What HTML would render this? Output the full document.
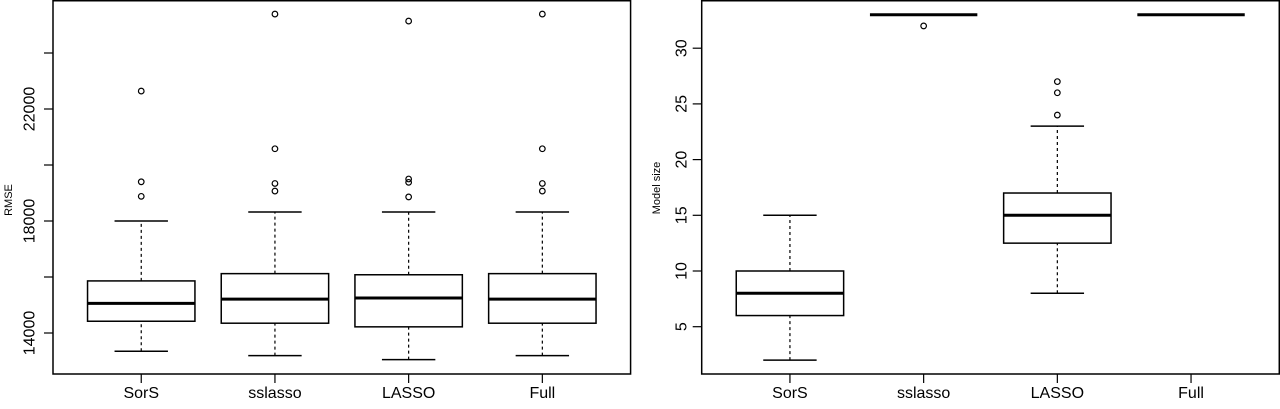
<!DOCTYPE html>
<html><head><meta charset="utf-8"><style>
html,body{margin:0;padding:0;background:#fff;}
svg text{font-family:"Liberation Sans",Arial,sans-serif;fill:#000;}
</style></head><body>
<svg id="chart" width="1280" height="404" xmlns="http://www.w3.org/2000/svg"></svg>
<script>
const categories = ["SorS","sslasso","LASSO","Full"];
// RMSE stats: [lowerWhisker, q1, median, q3, upperWhisker]
const rmseStats = [
  [13350,14420,15060,15860,18000],
  [13190,14350,15210,16120,18320],
  [13050,14220,15250,16080,18320],
  [13190,14350,15210,16120,18320]
];
const rmseOutliers = [
  [22640,19400,18880],
  [25390,20580,19340,19070],
  [25140,19500,19380,18860],
  [25390,20580,19340,19070]
];
const rmseTicks = [14000,16000,18000,20000,22000,24000];
const rmseTickLabels = ["14000","","18000","","22000",""];
const sizeStats = [
  [2,6,8,10,15],
  [33,33,33,33,33],
  [8,12.5,15,17,23],
  [33,33,33,33,33]
];
const sizeOutliers = [[],[32],[24,26,27],[]];
const sizeTicks = [5,10,15,20,25,30];
const sizeTickLabels = ["5","10","15","20","25","30"];

const NS="http://www.w3.org/2000/svg";
const svg=document.getElementById('chart');
function mk(tag,attrs,parent){const e=document.createElementNS(NS,tag);for(const k in attrs)e.setAttribute(k,attrs[k]);(parent||svg).appendChild(e);return e;}

function panel(opt){
  const g=mk('g',{});
  
  
  const left=opt.left, top=0, bottom=374, spacing=133.7;
  const right=left+4.32*spacing;
  const xs=i=>left+(i+1-0.34)*spacing;
  const ys=v=>opt.y0-(v-opt.v0)*opt.k;
  const fr=mk('rect',{x:left,y:0.75,width:right-left,height:bottom-0.75,fill:'none',stroke:'#000','stroke-width':1.5},g);
  
  
  // y axis
  opt.ticks.forEach((t,i)=>{
    const y=ys(t);
    const tk=mk('line',{x1:left,x2:left-9,y1:y,y2:y,stroke:'#000','stroke-width':1.2},g);
    
    
    if(opt.labels[i]){
      const tx=mk('text',{x:opt.labX,y:y,'font-size':16,'text-anchor':'middle',transform:`rotate(-90 ${opt.labX} ${y})`,'dominant-baseline':'central'},g);
      tx.textContent=opt.labels[i];
      
      
    }
  });
  const yt=mk('text',{x:opt.titleX,y:opt.titleY,'font-size':11,'text-anchor':'middle',transform:`rotate(-90 ${opt.titleX} ${opt.titleY})`},g);
  yt.textContent=opt.title;
  
  
  categories.forEach((c,i)=>{
    const x=xs(i);
    const tk=mk('line',{x1:x,x2:x,y1:bottom,y2:bottom+9,stroke:'#000','stroke-width':1.2},g);
    
    
    const tx=mk('text',{x:x,y:398,'font-size':16,'text-anchor':'middle'},g);
    tx.textContent=c;
    
    
    const s=opt.stats[i];
    const bw=53.7, cw=26.7;
    const bg=mk('g',{},g);
    
    
    mk('line',{x1:x,x2:x,y1:ys(s[0]),y2:ys(s[1]),stroke:'#000','stroke-width':1.2,'stroke-dasharray':'3,3'},bg);
    mk('line',{x1:x,x2:x,y1:ys(s[3]),y2:ys(s[4]),stroke:'#000','stroke-width':1.2,'stroke-dasharray':'3,3'},bg);
    mk('line',{x1:x-cw,x2:x+cw,y1:ys(s[0]),y2:ys(s[0]),stroke:'#000','stroke-width':1.5},bg);
    mk('line',{x1:x-cw,x2:x+cw,y1:ys(s[4]),y2:ys(s[4]),stroke:'#000','stroke-width':1.5},bg);
    mk('rect',{x:x-bw,y:ys(s[3]),width:2*bw,height:ys(s[1])-ys(s[3]),fill:'#fff',stroke:'#000','stroke-width':1.5},bg);
    mk('line',{x1:x-bw,x2:x+bw,y1:ys(s[2]),y2:ys(s[2]),stroke:'#000','stroke-width':3},bg);
    opt.outliers[i].forEach(o=>{
      const p=mk('circle',{cx:x,cy:ys(o),r:2.8,fill:'none',stroke:'#000','stroke-width':1.2},bg);
      
      
    });
  });
}
panel({name:'rmse-panel',left:53,y0:333,v0:14000,k:0.028,ticks:rmseTicks,labels:rmseTickLabels,stats:rmseStats,outliers:rmseOutliers,labX:30,title:'RMSE',titleX:12,titleY:200});
panel({name:'model-size-panel',left:701.7,y0:326.7,v0:5,k:11.14,ticks:sizeTicks,labels:sizeTickLabels,stats:sizeStats,outliers:sizeOutliers,labX:682,title:'Model size',titleX:660,titleY:188});
</script>
</body></html>
